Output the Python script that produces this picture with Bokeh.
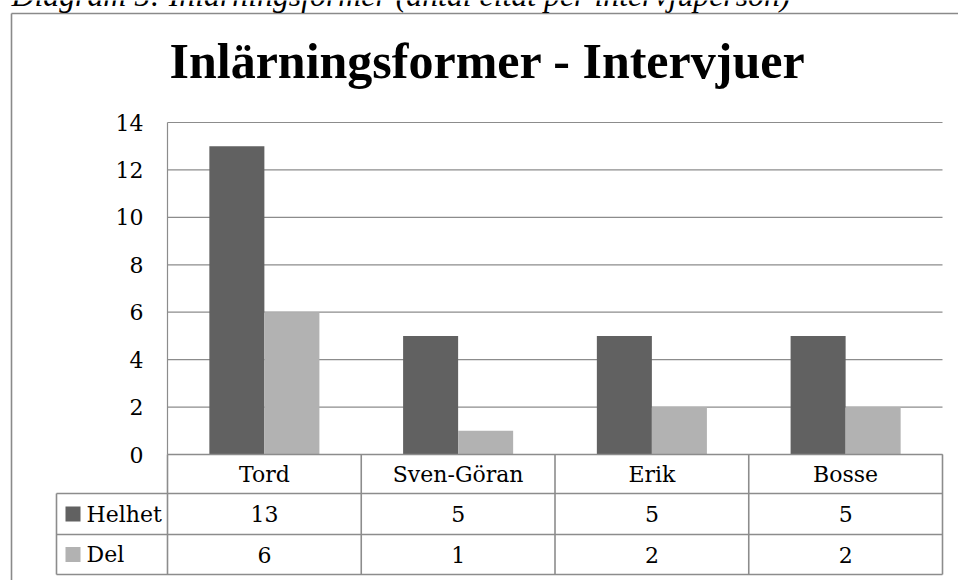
import numpy as np
from bokeh.plotting import figure
from bokeh.models import Range1d
from bokeh.core.properties import value
from bokeh.embed import file_html
from bokeh.resources import INLINE

# ---------------- data ----------------
categories = ["Tord", "Sven-Göran", "Erik", "Bosse"]
series_names = ["Helhet", "Del"]
helhet = [13, 5, 5, 5]
del_ = [6, 1, 2, 2]
y_ticks = [0, 2, 4, 6, 8, 10, 12, 14]
y_tick_labels = ["0", "2", "4", "6", "8", "10", "12", "14"]
title_text = "Inlärningsformer - Intervjuer"
caption_text = "Diagram 5: Inlärningsformer (antal citat per intervjuperson)"

# ---------------- layout constants (pixels -> data units) ----------------
W, H = 958, 580
X0_PX, CAT_PX = 167.0, 193.75     # left of plot area, width of one category
Y0_PX, UNIT_PX = 454.0, 23.714    # y of value 0, pixels per value unit


def u(px):
    return (px - X0_PX) / CAT_PX


def v(py):
    return (Y0_PX - py) / UNIT_PX


DARK = "#616161"
LIGHT = "#b2b2b2"
GRID = "#8c8c8c"
SERIF = value("DejaVu Serif")
TITLE_FONT = value("Liberation Serif")

p = figure(width=W, height=H, output_backend="svg", toolbar_location=None,
           x_range=Range1d(u(0), u(W)), y_range=Range1d(v(H), v(0)),
           x_axis_location=None, y_axis_location=None, title=None,
           min_border=0, margin=0)
p.grid.visible = False
p.outline_line_color = None
p.background_fill_color = "white"
p.border_fill_color = "white"

n = len(categories)
idx = np.arange(n)
bar_w = 0.284

# outer frame (top and left border of the chart object)
p.segment(x0=[u(11)], y0=[v(13)], x1=[u(W)], y1=[v(13)], line_color="#8a8a8a", line_width=1.6)
p.segment(x0=[u(11)], y0=[v(13)], x1=[u(11)], y1=[v(H)], line_color="#8a8a8a", line_width=1.6)

# gridlines
p.segment(x0=[0] * len(y_ticks), y0=y_ticks, x1=[n] * len(y_ticks), y1=y_ticks,
          line_color=GRID, line_width=1.2)
# vertical axis line
p.segment(x0=[0], y0=[0], x1=[0], y1=[max(y_ticks)], line_color=GRID, line_width=1.2)

# bars
p.vbar(x=idx + 0.5 - bar_w / 2, top=helhet, width=bar_w, bottom=0,
       fill_color=DARK, line_color=None)
p.vbar(x=idx + 0.5 + bar_w / 2, top=del_, width=bar_w, bottom=0,
       fill_color=LIGHT, line_color=None)

# y tick labels
p.text(x=[0] * len(y_ticks), y=y_ticks, text=y_tick_labels, x_offset=-24,
       text_align="right", text_baseline="middle", text_font=SERIF,
       text_font_size="22px", text_color="black")

# ---------------- data table ----------------
row_edges = [v(454), v(493), v(534), v(574)]
leg_left = u(56)
# horizontal lines
p.segment(x0=[0], y0=[row_edges[0]], x1=[n], y1=[row_edges[0]], line_color=GRID, line_width=1.6)
p.segment(x0=[leg_left] * 3, y0=row_edges[1:], x1=[n] * 3, y1=row_edges[1:],
          line_color=GRID, line_width=1.6)
# vertical lines
p.segment(x0=list(range(n + 1)), y0=[row_edges[0]] * (n + 1), x1=list(range(n + 1)),
          y1=[row_edges[3]] * (n + 1), line_color=GRID, line_width=1.6)
p.segment(x0=[leg_left], y0=[row_edges[1]], x1=[leg_left], y1=[row_edges[3]],
          line_color=GRID, line_width=1.6)

row_mid = [(row_edges[i] + row_edges[i + 1]) / 2 for i in range(3)]
p.text(x=idx + 0.5, y=[row_mid[0]] * n, text=categories, text_align="center",
       text_baseline="middle", text_font=SERIF, text_font_size="22px", text_color="black")
p.text(x=idx + 0.5, y=[row_mid[1]] * n, text=[str(a) for a in helhet], text_align="center",
       text_baseline="middle", text_font=SERIF, text_font_size="22px", text_color="black")
p.text(x=idx + 0.5, y=[row_mid[2]] * n, text=[str(a) for a in del_], text_align="center",
       text_baseline="middle", text_font=SERIF, text_font_size="22px", text_color="black")

# legend keys inside table
p.rect(x=[u(72.5)] * 2, y=row_mid[1:], width=15, height=15, width_units="screen",
       height_units="screen", fill_color=[DARK, LIGHT], line_color=None)
p.text(x=[u(86)] * 2, y=row_mid[1:], text=series_names, text_align="left",
       text_baseline="middle", text_font=SERIF, text_font_size="22px", text_color="black")

# title
p.text(x=[u(487)], y=[v(60.5)], text=[title_text], text_align="center",
       text_baseline="alphabetic", text_font=TITLE_FONT, text_font_style="bold",
       text_font_size="50px", text_color="black")

# caption above the chart (cut off at the top)
p.text(x=[u(11)], y=[v(-5)], text=[caption_text], text_align="left",
       text_baseline="alphabetic", text_font=TITLE_FONT, text_font_style="italic",
       text_font_size="31.8px", text_color="black")

open("out.html", "w").write(file_html(p, INLINE))
